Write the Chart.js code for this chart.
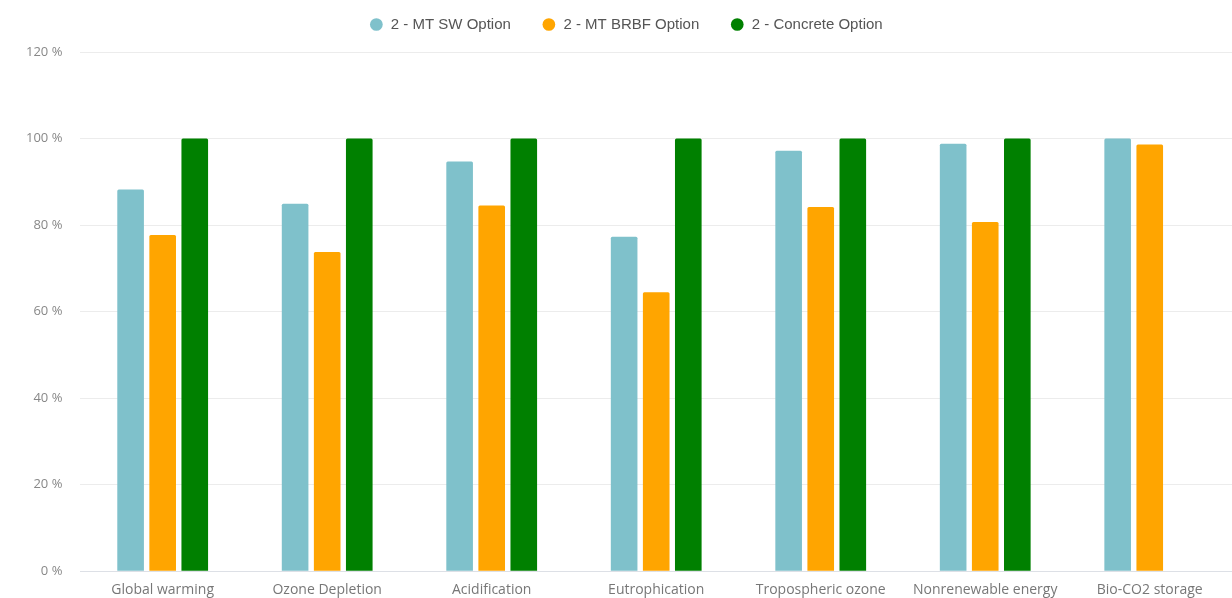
<!DOCTYPE html>
<html>
<head>
<meta charset="utf-8">
<script src="https://cdn.jsdelivr.net/npm/chart.js@4/dist/chart.umd.min.js"></script>
<style>
  html, body { margin: 0; padding: 0; background: #fff; }
  #wrap { width: 1232px; height: 598px; position: relative; }
</style>
</head>
<body>
<div id="wrap"><canvas id="grafico"></canvas></div>
<script>
// datos
const categorias = ['Global warming', 'Ozone Depletion', 'Acidification', 'Eutrophication', 'Tropospheric ozone', 'Nonrenewable energy', 'Bio-CO2 storage']
const serie_sw = [88.2, 84.9, 94.7, 77.3, 97.2, 98.8, 100]
const serie_brbf = [77.7, 73.8, 84.5, 64.5, 84.2, 80.7, 98.6]
const serie_concreto = [100, 100, 100, 100, 100, 100, 0]
const nombres = ['2 - MT SW Option', '2 - MT BRBF Option', '2 - Concrete Option']
const colores = ['#7fc1cb', '#ffa500', '#008000']

// leyenda: alto fijo y movida un poco, para que el area del grafico empiece en y=52
const ajusteLeyenda = {
  id: 'ajusteLeyenda',
  beforeInit(chart) {
    const fitOriginal = chart.legend.fit
    chart.legend.fit = function () {
      fitOriginal.bind(chart.legend)()
      this.height = 52
    }
  },
  beforeDraw(chart) {
    chart.legend.top = -14
    chart.legend.left = 10
    chart.legend.right = chart.width + 10
  }
}

let ctx = document.getElementById('grafico').getContext('2d')
let grafico = new Chart(ctx, {
  type: 'bar',
  data: {
    labels: categorias,
    datasets: [
      { label: nombres[0], data: serie_sw, backgroundColor: colores[0] },
      { label: nombres[1], data: serie_brbf, backgroundColor: colores[1] },
      { label: nombres[2], data: serie_concreto, backgroundColor: colores[2] }
    ]
  },
  options: {
    responsive: true,
    maintainAspectRatio: false,
    animation: false,
    layout: { padding: { left: 8, right: 0, top: 0, bottom: -10 } },
    datasets: {
      bar: { categoryPercentage: 0.585, barPercentage: 0.83, borderRadius: 1.5 }
    },
    plugins: {
      legend: {
        position: 'top',
        align: 'center',
        labels: {
          usePointStyle: true,
          pointStyle: 'circle',
          boxWidth: 14,
          boxHeight: 9,
          padding: 31,
          color: '#555',
          font: { family: 'Liberation Sans', size: 15 }
        }
      },
      tooltip: { enabled: false }
    },
    scales: {
      x: {
        grid: { display: false, drawTicks: false },
        border: { display: true, color: '#dde0e6' },
        ticks: { color: '#777', padding: 10, font: { family: 'Open Sans', size: 14 } }
      },
      y: {
        min: 0,
        max: 120,
        ticks: {
          stepSize: 20,
          padding: 18,
          color: '#888',
          font: { family: 'Open Sans', size: 13 },
          callback: function (v) { return v + ' %' }
        },
        grid: { color: '#ececec', drawTicks: false },
        border: { display: false }
      }
    }
  },
  plugins: [ajusteLeyenda]
})
</script>
</body>
</html>
